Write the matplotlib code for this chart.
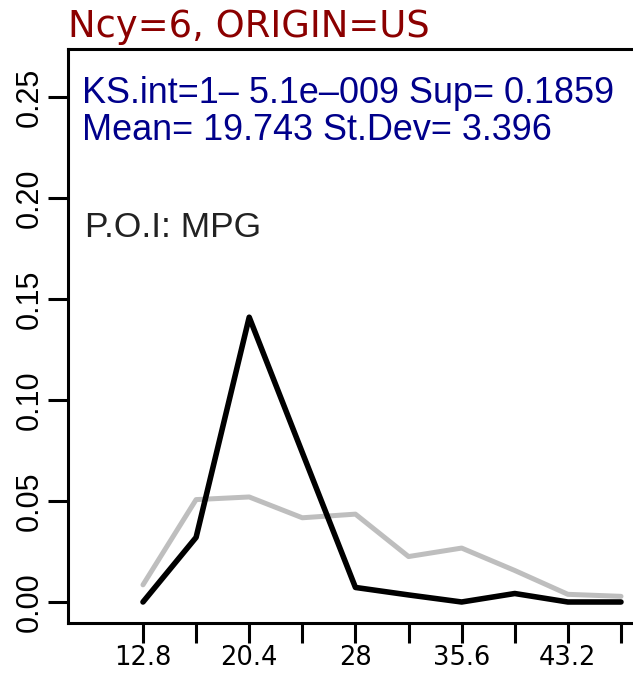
import matplotlib
matplotlib.use("Agg")
import matplotlib.pyplot as plt

# MPG bins (x) and the two density curves
mpg_bins = [12.8, 16.6, 20.4, 24.2, 28.0, 31.8, 35.6, 39.4, 43.2, 47.0]
mpg_labels = ["12.8", "", "20.4", "", "28", "", "35.6", "", "43.2", ""]
dens_subset = [0.000, 0.032, 0.141, 0.074, 0.0072, 0.0035, 0.000, 0.0042, 0.000, 0.000]
dens_all = [0.0085, 0.0507, 0.052, 0.0417, 0.0435, 0.0225, 0.0267, 0.0156, 0.0038, 0.0028]
y_ticks = [0.00, 0.05, 0.10, 0.15, 0.20, 0.25]
y_labels = ["0.00", "0.05", "0.10", "0.15", "0.20", "0.25"]

title = "Ncy=6, ORIGIN=US"
stat_lines = ["KS.int=1\u2013 5.1e\u2013009 Sup= 0.1859", "Mean= 19.743 St.Dev= 3.396"]
poi = "P.O.I: MPG"

W, H = 633, 675
fig = plt.figure(figsize=(W / 100, H / 100), dpi=100)
# plot box: left 68px, top 49px, bottom 623px, right edge runs off the image
ax = fig.add_axes([68 / W, (H - 623) / H, (640 - 68) / W, (623 - 49) / H])

ax.plot(mpg_bins, dens_all, color="#bebebe", lw=3.6, solid_capstyle="round", solid_joinstyle="round")
ax.plot(mpg_bins, dens_subset, color="black", lw=4.0, solid_capstyle="round", solid_joinstyle="round")

ax.set_xlim(7.435, 48.36)
ax.set_ylim(-0.0104, 0.2738)

ax.set_xticks(mpg_bins)
ax.set_xticklabels(mpg_labels, fontsize=18.5, family="DejaVu Sans")
ax.set_yticks(y_ticks)
ax.set_yticklabels(y_labels, fontsize=22, family="Liberation Sans", rotation=90, va="center")
ax.tick_params(axis="both", direction="out", length=14.4, width=2.2, color="black")
ax.tick_params(axis="x", pad=1.5)
ax.tick_params(axis="y", pad=2)
for sp in ax.spines.values():
    sp.set_linewidth(2.2)

fig.text(68.5 / W, 1 - 37 / H, title, color="#8b0000", fontsize=26.6,
         family="DejaVu Sans", va="baseline", ha="left")
fig.text(82 / W, 1 - 103 / H, stat_lines[0], color="#00008b", fontsize=25.9,
         family="Liberation Sans", va="baseline", ha="left")
fig.text(82 / W, 1 - 140 / H, stat_lines[1], color="#00008b", fontsize=25.9,
         family="Liberation Sans", va="baseline", ha="left")
fig.text(85 / W, 1 - 237 / H, poi, color="#222222", fontsize=25.5,
         family="Liberation Sans", va="baseline", ha="left")

fig.savefig("out.png", dpi=100)
